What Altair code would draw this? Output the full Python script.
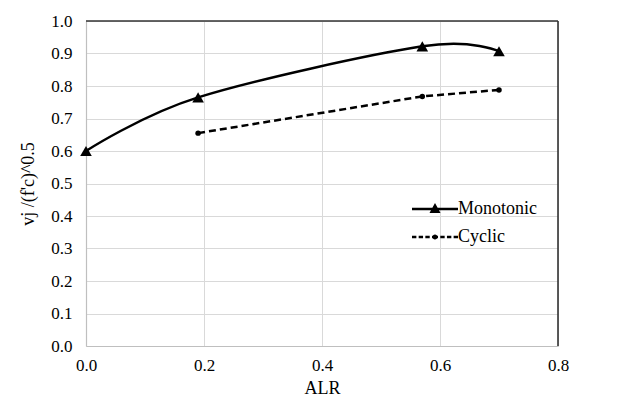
import altair as alt
import pandas as pd

# Joint shear strength ratio versus axial load ratio
alr_mono = [0.0, 0.19, 0.57, 0.70]
vj_mono = [0.600, 0.765, 0.922, 0.907]
alr_cyc = [0.19, 0.57, 0.70]
vj_cyc = [0.655, 0.768, 0.788]
series_names = ["Monotonic", "Cyclic"]
x_ticks = [0.0, 0.2, 0.4, 0.6, 0.8]
y_ticks = [0.0, 0.1, 0.2, 0.3, 0.4, 0.5, 0.6, 0.7, 0.8, 0.9, 1.0]

FONT = "Liberation Serif"

mono = pd.DataFrame({"alr": alr_mono, "vj": vj_mono, "series": "Monotonic"})
cyc = pd.DataFrame({"alr": alr_cyc, "vj": vj_cyc, "series": "Cyclic"})
both = pd.concat([mono, cyc], ignore_index=True)

x_scale = alt.Scale(domain=[x_ticks[0], x_ticks[-1]], nice=False)
y_scale = alt.Scale(domain=[y_ticks[0], y_ticks[-1]], nice=False)

axis_style = dict(
    labelFont=FONT, labelFontSize=17, labelColor="black",
    titleFont=FONT, titleFontSize=18, titleColor="black", titleFontWeight="normal",
    labelOverlap=False,
)
x_axis = alt.Axis(
    values=x_ticks, format=".1f", labelPadding=11, titlePadding=6,
    labelFlush=False, **axis_style,
)
y_axis = alt.Axis(
    values=y_ticks, format=".1f", labelPadding=14, titlePadding=13,
    **axis_style,
)


def xy():
    return dict(
        x=alt.X("alr:Q", scale=x_scale, title="ALR", axis=x_axis),
        y=alt.Y("vj:Q", scale=y_scale, title="vj /(f'c)^0.5", axis=y_axis),
    )


mono_line = alt.Chart(mono).mark_line(
    color="black", strokeWidth=2.5, interpolate="cardinal", tension=0
).encode(**xy())

cyc_line = alt.Chart(cyc).mark_line(
    color="black", strokeWidth=2.5, strokeDash=[7, 4]
).encode(**xy())

mono_pts = alt.Chart(mono).mark_point(
    shape="triangle-up", filled=True, color="black", size=135, opacity=1
).encode(**xy())

cyc_pts = alt.Chart(cyc).mark_point(
    shape="circle", filled=True, color="black", size=30, opacity=1
).encode(**xy())

# Plot-area frame on the top and right edges, spanning the axis limits
frame = pd.DataFrame({
    "alr": [x_ticks[0], x_ticks[-1]],
    "alr2": [x_ticks[-1], x_ticks[-1]],
    "vj": [y_ticks[-1], y_ticks[0]],
    "vj2": [y_ticks[-1], y_ticks[-1]],
})
frame_rules = alt.Chart(frame).mark_rule(color="#333333", strokeWidth=1.6).encode(
    x2="alr2:Q", y2="vj2:Q", **xy()
)


# Legend glyphs built from filled shapes: a line with its marker
def bar(a, b, h=0.058):
    return f"M{a},{-h}H{b}V{h}H{a}Z"


tri_glyph = bar(-1, 1) + "M-0.24,0.17L0,-0.26L0.24,0.17Z"
dash_glyph = "".join(
    bar(a, b) for a, b in [(-1, -0.81), (-0.71, -0.52), (-0.42, -0.23), (-0.13, 0.13),
                           (0.23, 0.42), (0.52, 0.71), (0.81, 1)]
) + "M-0.11,0A0.11,0.11,0,1,1,0.11,0A0.11,0.11,0,1,1,-0.11,0Z"

legend_layer = alt.Chart(both).transform_filter("false").mark_point(
    filled=True, color="black", size=2116, opacity=1,
).encode(
    shape=alt.Shape(
        "series:N",
        scale=alt.Scale(domain=series_names, range=[tri_glyph, dash_glyph]),
        legend=alt.Legend(
            title=None, orient="none", legendX=326, legendY=178,
            symbolSize=2116, symbolStrokeWidth=0,
            symbolFillColor="black",
            clipHeight=20, rowPadding=8, labelOffset=0, padding=0,
            labelFont=FONT, labelFontSize=18, labelColor="black",
        ),
    ),
    **xy(),
)

chart = alt.layer(
    frame_rules, cyc_line, mono_line, cyc_pts, mono_pts, legend_layer
).properties(
    width=472, height=325,
    autosize=alt.AutoSizeParams(type="none"),
    padding={"left": 86, "top": 21, "right": 65, "bottom": 58},
).configure(
    font=FONT
).configure_view(
    stroke=None
).configure_axis(
    grid=True, gridColor="#d9d9d9", gridWidth=1,
    domainColor="#bfbfbf", domainWidth=1.2,
    ticks=False,
)

chart.save("out.html", embed_options={"renderer": "svg", "actions": False})
